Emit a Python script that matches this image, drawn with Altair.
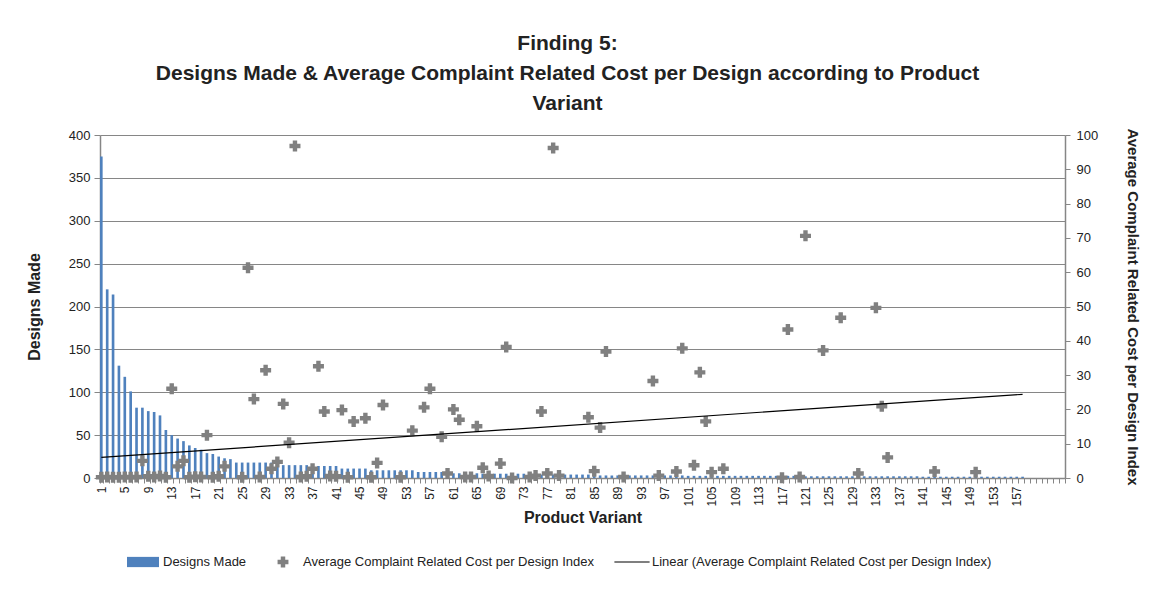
import altair as alt
import pandas as pd

# ---------------- data ----------------
all_variants = list(range(1, 166))

bar_variants = list(range(1, 159))
designs_made = [
    375, 220, 214, 131, 118, 101, 82, 82, 78, 77,
    73, 56, 50, 46, 43, 38, 35, 33, 29, 28,
    25, 23, 22, 18, 18, 18, 18, 18, 18, 18,
    18, 15, 15, 15, 15, 15, 14, 14, 14, 14,
    14, 11, 11, 11, 11, 11, 9, 9, 9, 9,
    9, 9, 9, 9, 7, 7, 7, 7, 7, 7,
    5.5, 5.5, 5.5, 5.5, 5.5, 5, 5, 5, 5, 5,
    5, 5, 5, 5, 5, 4, 4, 4, 4, 4,
    4, 4, 4, 4, 4, 3, 3, 3, 3, 3,
    3, 3, 3, 3, 3, 3, 3, 3, 3, 3,
    2.5, 2.5, 2.5, 2.5, 2.5, 2.5, 2.5, 2.5, 2.5, 2.5,
    2.5, 2.5, 2.5, 2.5, 2.5, 2.5, 2.5, 2.5, 2.5, 2.5,
    2, 2, 2, 2, 2, 2, 2, 2, 2, 2,
    2, 2, 2, 2, 2, 2, 2, 2, 2, 2,
    1.5, 1.5, 1.5, 1.5, 1.5, 1.5, 1.5, 1.5, 1.5, 1.5,
    1.5, 1.5, 1.5, 1.5, 1.5, 1.5, 1.5, 1.5,
]

cost_variants = [
    1, 2, 3, 4, 5, 6, 7, 8, 9, 10, 11, 12, 13, 14, 15, 16, 17, 18, 19, 20,
    21, 22, 25, 26, 27, 28, 29, 30, 31, 32, 33, 34, 35, 36, 37, 38, 39, 40,
    41, 42, 43, 44, 46, 47, 48, 49, 52, 54, 56, 57, 59, 60, 61, 62, 63, 64,
    65, 66, 67, 69, 70, 71, 74, 75, 76, 77, 78, 79, 84, 85, 86, 87, 90, 95,
    96, 99, 100, 102, 103, 104, 105, 107, 117, 118, 120, 121, 124, 127, 130,
    133, 134, 135, 143, 150,
]
cost_index = [
    0.2, 0.3, 0.2, 0.2, 0.3, 0.2, 0.3, 5.0, 0.5, 0.3, 0.6, 0.2, 26.0, 3.4, 5.0, 0.2, 0.4, 0.3, 12.5, 0.2,
    0.5, 3.4, 0.2, 61.3, 23.0, 0.3, 31.4, 2.7, 4.7, 21.6, 10.3, 96.8, 0.3, 0.5, 2.7, 32.6, 19.4, 0.6,
    0.5, 19.8, 0.2, 16.5, 17.4, 0.2, 4.4, 21.3, 0.2, 13.8, 20.6, 26.0, 12.0, 1.3, 20.0, 17.0, 0.3, 0.3,
    15.1, 3.0, 0.6, 4.2, 38.2, 0.0, 0.3, 0.7, 19.4, 1.3, 96.2, 0.7, 17.7, 2.0, 14.7, 36.9, 0.3, 28.3,
    0.7, 1.9, 37.8, 3.7, 30.8, 16.5, 1.7, 2.7, 0.1, 43.3, 0.3, 70.6, 37.2, 46.7, 1.3,
    49.6, 20.9, 6.0, 1.9, 1.7,
]

trend_variants = [1, 158]
trend_values = [6.0, 24.4]

series_names = [
    "Designs Made",
    "Average Complaint Related Cost per Design Index",
    "Linear (Average Complaint Related Cost per Design Index)",
]
series_colors = ["#4F81BD", "#808080", "#000000"]

bars_df = pd.DataFrame({"variant": bar_variants, "designs": designs_made})
cost_df = pd.DataFrame({"variant": cost_variants, "cost": cost_index})
trend_df = pd.DataFrame({"variant": trend_variants, "cost": trend_values})
legend_df = pd.DataFrame({"series": series_names})

# ---------------- styling ----------------
FONT = "Liberation Sans"
GRAY = "#868686"
TEXT = "#222222"

cross_path = "M-0.4,-1H0.4V-0.4H1V0.4H0.4V1H-0.4V0.4H-1V-0.4H-0.4Z"
legend_shapes = [
    "M-1,-0.32H1V0.32H-1Z",
    "M-0.14,-0.34H0.14V-0.14H0.34V0.14H0.14V0.34H-0.14V0.14H-0.34V-0.14H-0.14Z",
    "M-1.1,-0.035H1.1V0.035H-1.1Z",
]

x_scale = alt.Scale(domain=all_variants, paddingInner=0.55, paddingOuter=0.0)
x_axis = alt.Axis(
    title="Product Variant",
    labelExpr="((datum.value - 1) % 4 == 0 && datum.value <= 157) ? datum.value : ''",
    labelAngle=-90,
    labelOverlap=False,
    labelFontSize=12,
    labelColor=TEXT,
    labelPadding=3,
    tickBand="extent",
    tickSize=5,
    tickColor=GRAY,
    domainColor=GRAY,
    domainWidth=1.5,
    titleFontSize=16,
    titleFontWeight="bold",
    titleColor=TEXT,
    titlePadding=3,
    grid=False,
)

right_axis = alt.Axis(
    orient="right",
    title="Average Complaint Related Cost per Design Index",
    values=list(range(0, 101, 10)),
    grid=False,
    tickSize=5,
    tickColor=GRAY,
    domainColor=GRAY,
    domainWidth=1.5,
    labelFontSize=13,
    labelColor=TEXT,
    labelPadding=6,
    titleFontSize=15,
    titleFontWeight="bold",
    titleColor=TEXT,
    titlePadding=27,
)
right_scale = alt.Scale(domain=[0, 100], nice=False)

bars = alt.Chart(bars_df).mark_bar(color="#4F81BD").encode(
    x=alt.X("variant:O", scale=x_scale, axis=x_axis),
    y=alt.Y(
        "designs:Q",
        scale=alt.Scale(domain=[0, 400], nice=False),
        axis=alt.Axis(
            title="Designs Made",
            values=list(range(0, 401, 50)),
            grid=True,
            gridColor=GRAY,
            gridWidth=1,
            tickSize=6,
            tickColor=GRAY,
            domainColor=GRAY,
            domainWidth=1.5,
            labelFontSize=13,
            labelColor=TEXT,
            labelPadding=4,
            titleFontSize=16,
            titleFontWeight="bold",
            titleColor=TEXT,
            titlePadding=26,
        ),
    ),
)

points = alt.Chart(cost_df).mark_point(
    shape=cross_path, filled=True, color="#808080", size=121, opacity=1, strokeWidth=0
).encode(
    x=alt.X("variant:O", scale=x_scale, axis=x_axis),
    y=alt.Y("cost:Q", scale=right_scale, axis=right_axis),
)

trend = alt.Chart(trend_df).mark_line(color="#000000", strokeWidth=1.2).encode(
    x=alt.X("variant:O", scale=x_scale, axis=x_axis),
    y=alt.Y("cost:Q", scale=right_scale, axis=right_axis),
)

legend_spec = alt.Legend(
    title=None,
    orient="none",
    direction="horizontal",
    legendX=27,
    legendY=411,
    padding=0,
    symbolSize=1024,
    symbolStrokeWidth=0,
    labelFontSize=13,
    labelColor=TEXT,
    labelLimit=600,
    labelOffset=4,
    columnPadding=20,
)

legend_layer = alt.Chart(legend_df).mark_point(filled=True, opacity=1).encode(
    color=alt.Color(
        "series:N",
        scale=alt.Scale(domain=series_names, range=series_colors),
        legend=legend_spec,
    ),
    shape=alt.Shape(
        "series:N",
        scale=alt.Scale(domain=series_names, range=legend_shapes),
        legend=legend_spec,
    ),
).transform_filter("false")

right_group = alt.layer(points, trend, legend_layer)

chart = (
    alt.layer(bars, right_group)
    .resolve_scale(y="independent")
    .resolve_axis(y="independent")
    .properties(
        width=965,
        height=343,
        padding={"left": 92, "top": 127, "right": 80, "bottom": 119},
        autosize=alt.AutoSizeParams(type="none"),
        title=alt.Title(
            ["Finding 5:",
             "Designs Made & Average Complaint Related Cost per Design according to Product",
             "Variant"],
            fontSize=21,
            fontWeight="bold",
            lineHeight=30,
            anchor="middle",
            dx=-15,
            offset=14,
            color=TEXT,
            font=FONT,
        ),
    )
    .configure(font=FONT)
    .configure_view(stroke=None)
)

chart.save("out.html", embed_options={"renderer": "svg", "actions": False})
